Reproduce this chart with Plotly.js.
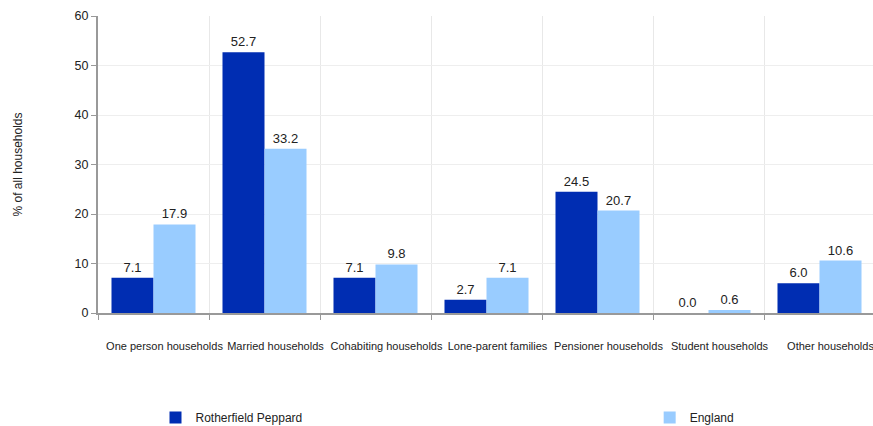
<!DOCTYPE html>
<html><head><meta charset="utf-8">
<script src="https://cdn.plot.ly/plotly-3.0.1.min.js"></script>
<style>html,body{margin:0;padding:0;overflow:hidden;background:#fff}</style>
</head><body><div id="chart" style="width:880px;height:426px"></div>
<script>
const categories = ["One person households","Married households","Cohabiting households","Lone-parent families","Pensioner households","Student households","Other households"];
const rotherfield = [7.1, 52.7, 7.1, 2.7, 24.5, 0.0, 6.0];
const england = [17.9, 33.2, 9.8, 7.1, 20.7, 0.6, 10.6];
const seriesNames = ["Rotherfield Peppard", "England"];
const yTicks = [0, 10, 20, 30, 40, 50, 60];

const font = {family: "Liberation Sans, Arial, sans-serif", size: 12, color: "#222"};
const traces = [
  {type: "bar", name: seriesNames[0], x: categories, y: rotherfield,
   marker: {color: "#002db2"}, text: rotherfield.map(v => v.toFixed(1)),
   textposition: "outside", textfont: {size: 13, color: "#222"}, cliponaxis: false, legend: "legend"},
  {type: "bar", name: seriesNames[1], x: categories, y: england,
   marker: {color: "#99ccff"}, text: england.map(v => v.toFixed(1)),
   textposition: "outside", textfont: {size: 13, color: "#222"}, cliponaxis: false, legend: "legend2"}
];
const layout = {
  width: 880, height: 426,
  margin: {l: 98, r: 5, t: 16, b: 113},
  font: font,
  paper_bgcolor: "#fff", plot_bgcolor: "#fff",
  bargap: 0.243, bargroupgap: 0,
  xaxis: {type: "category", tickson: "boundaries", showgrid: true, gridcolor: "#e8e8e8",
    ticks: "outside", ticklen: 5, tickcolor: "#999", showline: true, linecolor: "#999", linewidth: 2,
    tickangle: 0, tickfont: {size: 11, color: "#222"}, ticklabelstandoff: 22, ticklabelshift: 11, automargin: false},
  yaxis: {range: [0, 60], tickvals: yTicks, showgrid: true, gridcolor: "#eeeeee",
    ticks: "outside", ticklen: 5, tickcolor: "#999", showline: true, linecolor: "#999", linewidth: 2,
    zeroline: false, tickfont: {size: 12.5, color: "#222"},
    title: {text: "% of all households", font: {size: 12, color: "#222"}, standoff: 49}, automargin: false},
  showlegend: true,
  legend: {x: 0.074, xref: "paper", y: 0.02, yref: "container", xanchor: "left", yanchor: "middle", orientation: "h", font: {size: 12, color: "#222"}, bgcolor: "rgba(0,0,0,0)"},
  legend2: {x: 0.71, xref: "paper", y: 0.02, yref: "container", xanchor: "left", yanchor: "middle", orientation: "h", font: {size: 12, color: "#222"}, bgcolor: "rgba(0,0,0,0)"}
};
Plotly.newPlot("chart", traces, layout, {displayModeBar: false, staticPlot: true});
</script></body></html>
